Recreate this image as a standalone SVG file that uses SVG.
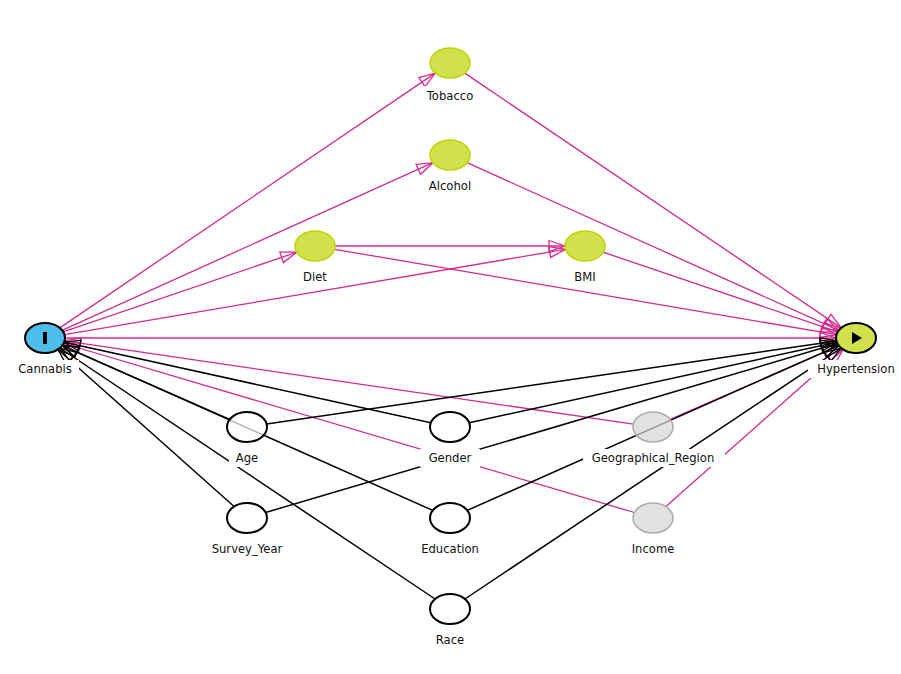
<svg xmlns="http://www.w3.org/2000/svg" width="901" height="674" viewBox="0 0 901 674">
<style>
.m{stroke:#d42a8e;stroke-width:1.3;fill:none;marker-end:url(#am)}
.k{stroke:#000;stroke-width:1.5;fill:none;marker-end:url(#ak)}
.nw{fill:#fff;fill-opacity:0.7;stroke:#000;stroke-width:2}
.ng{fill:#bed403;fill-opacity:0.7;stroke:#bed403;stroke-width:1.5}
.nu{fill:#d6d6d6;fill-opacity:0.7;stroke:#aaaaaa;stroke-width:1.5}
.lb{fill:#fff}
text{font-family:"DejaVu Sans","Liberation Sans",sans-serif;font-size:11.6px;fill:#111;text-anchor:middle}
</style>
<defs>
<marker id="am" markerUnits="userSpaceOnUse" markerWidth="20" markerHeight="14" refX="17" refY="7" orient="auto"><path d="M1,1.5 L17,7 L1,12.5 Z" fill="none" stroke="#d42a8e" stroke-width="1.3"/></marker>
<marker id="ak" markerUnits="userSpaceOnUse" markerWidth="20" markerHeight="14" refX="17" refY="7" orient="auto"><path d="M1,1.5 L17,7 L1,12.5 Z" fill="none" stroke="#000" stroke-width="1.3"/></marker>
</defs>
<rect width="901" height="674" fill="#fff"/>
<g id="edges">
<line class="m" x1="59.8" y1="327.9" x2="435.2" y2="73.1"/>
<line class="m" x1="62.1" y1="330.3" x2="432.9" y2="162.7"/>
<line class="m" x1="63.2" y1="331.8" x2="296.8" y2="252.2"/>
<line class="m" x1="64.5" y1="334.7" x2="565.5" y2="249.3"/>
<line class="m" x1="65" y1="338" x2="836" y2="338"/>
<line class="m" x1="464.8" y1="73.1" x2="841.2" y2="327.9"/>
<line class="m" x1="467.1" y1="162.7" x2="838.9" y2="330.3"/>
<line class="m" x1="335" y1="246" x2="565" y2="246"/>
<line class="m" x1="334.5" y1="249.3" x2="836.5" y2="334.7"/>
<line class="m" x1="603.2" y1="252.2" x2="837.8" y2="331.8"/>
<line class="m" x1="633.4" y1="424.1" x2="64.6" y2="340.9"/>
<line class="m" x1="670.3" y1="419.4" x2="838.7" y2="345.6"/>
<line class="m" x1="634.4" y1="512.5" x2="63.6" y2="343.5"/>
<line class="m" x1="665.9" y1="506.5" x2="843.1" y2="349.5"/>
<line class="k" x1="229.7" y1="419.4" x2="62.3" y2="345.6"/>
<line class="k" x1="266.6" y1="424.1" x2="836.4" y2="340.9"/>
<line class="k" x1="430.8" y1="422.8" x2="64.2" y2="342.2"/>
<line class="k" x1="469.2" y1="422.8" x2="836.8" y2="342.2"/>
<line class="k" x1="234.1" y1="506.5" x2="57.9" y2="349.5"/>
<line class="k" x1="265.6" y1="512.5" x2="837.4" y2="343.5"/>
<line class="k" x1="432.8" y1="510.4" x2="62.2" y2="345.6"/>
<line class="k" x1="467.2" y1="510.4" x2="838.8" y2="345.6"/>
<line class="k" x1="435.1" y1="599" x2="59.9" y2="348"/>
<line class="k" x1="464.9" y1="599" x2="841.1" y2="348"/>
</g>
<g id="Cannabis">
<ellipse cx="45" cy="338" rx="20" ry="15" fill="#00a2e0" fill-opacity="0.7" stroke="#000" stroke-width="2"/>
<rect x="43" y="332" width="4" height="12" fill="#000"/>
<rect class="lb" x="11" y="360" width="68" height="18"/>
<text x="45" y="373">Cannabis</text>
</g>
<g id="Hypertension">
<ellipse cx="856" cy="338" rx="20" ry="15" fill="#bed403" fill-opacity="0.7" stroke="#000" stroke-width="2"/>
<path d="M852,332 L862,338 L852,344 Z" fill="#000"/>
<rect class="lb" x="808" y="360" width="93" height="18"/>
<text x="856" y="373">Hypertension</text>
</g>
<g id="Tobacco">
<ellipse class="ng" cx="450" cy="63" rx="20" ry="15"/>
<rect class="lb" x="418" y="86" width="65" height="18"/>
<text x="450" y="100">Tobacco</text>
</g>
<g id="Alcohol">
<ellipse class="ng" cx="450" cy="155" rx="20" ry="15"/>
<rect class="lb" x="421" y="177" width="59" height="18"/>
<text x="450" y="190">Alcohol</text>
</g>
<g id="Diet">
<ellipse class="ng" cx="315" cy="246" rx="20" ry="15"/>
<rect class="lb" x="297" y="268" width="38" height="18"/>
<text x="315" y="281">Diet</text>
</g>
<g id="BMI">
<ellipse class="ng" cx="585" cy="246" rx="20" ry="15"/>
<rect class="lb" x="567" y="268" width="36" height="18"/>
<text x="585" y="281">BMI</text>
</g>
<g id="Age">
<ellipse class="nw" cx="247" cy="427" rx="20" ry="15"/>
<rect class="lb" x="229" y="449" width="38" height="18"/>
<text x="247" y="462">Age</text>
</g>
<g id="Gender">
<ellipse class="nw" cx="450" cy="427" rx="20" ry="15"/>
<rect class="lb" x="420" y="449" width="60" height="18"/>
<text x="450" y="462">Gender</text>
</g>
<g id="Geographical_Region">
<ellipse class="nu" cx="653" cy="427" rx="20" ry="15"/>
<rect class="lb" x="583" y="449" width="142" height="18"/>
<text x="653" y="462">Geographical_Region</text>
</g>
<g id="Survey_Year">
<ellipse class="nw" cx="247" cy="518" rx="20" ry="15"/>
<rect class="lb" x="204" y="540" width="86" height="18"/>
<text x="247" y="553">Survey_Year</text>
</g>
<g id="Education">
<ellipse class="nw" cx="450" cy="518" rx="20" ry="15"/>
<rect class="lb" x="414" y="540" width="72" height="18"/>
<text x="450" y="553">Education</text>
</g>
<g id="Income">
<ellipse class="nu" cx="653" cy="518" rx="20" ry="15"/>
<rect class="lb" x="624" y="540" width="58" height="18"/>
<text x="653" y="553">Income</text>
</g>
<g id="Race">
<ellipse class="nw" cx="450" cy="609" rx="20" ry="15"/>
<rect class="lb" x="428" y="631" width="44" height="18"/>
<text x="450" y="644">Race</text>
</g>
</svg>
